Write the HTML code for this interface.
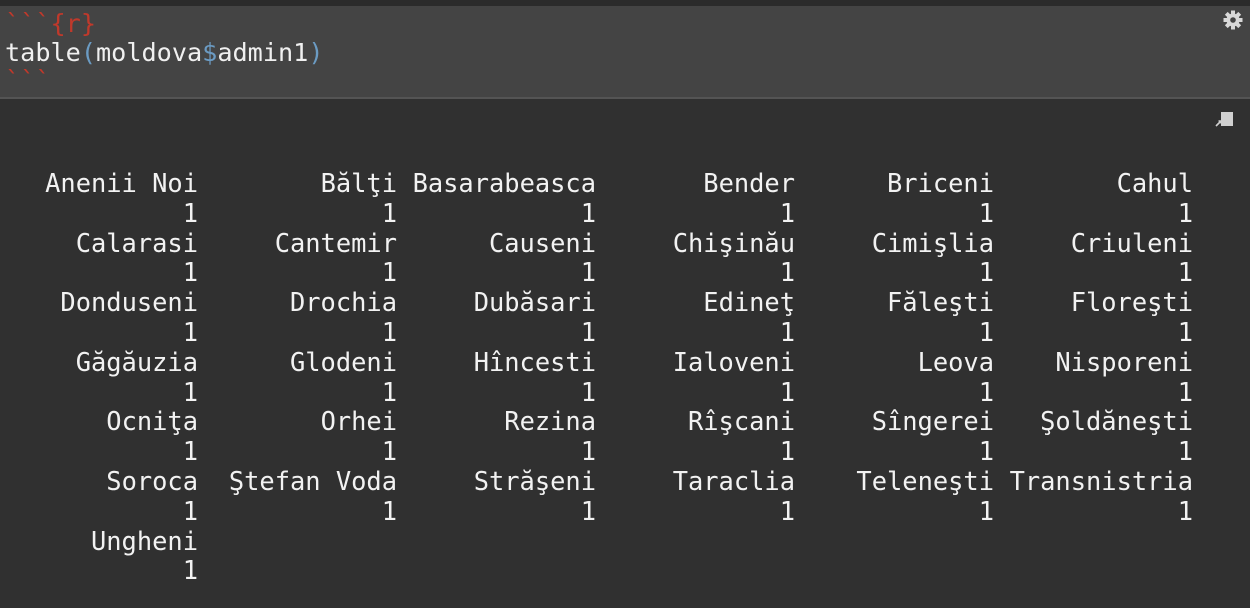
<!DOCTYPE html>
<html>
<head>
<meta charset="utf-8">
<title>moldova</title>
</head>
<body style="margin:0;width:1250px;height:608px;background:#303030;overflow:hidden;font-family:'DejaVu Sans Mono','Liberation Mono',monospace;">
<div style="height:6px;background:#2b2b2b;"></div>
<div style="height:91px;background:#444444;border-bottom:2px solid #545454;position:relative;">
<div style="padding:4px 0 0 5px;font-size:25.2px;line-height:28.5px;color:#f0f0f0;white-space:pre;"><span style="color:#c0392b;">&#96;&#96;&#96;{r}</span>
table<span style="color:#6b9bc3;">(</span>moldova<span style="color:#6b9bc3;">$</span>admin1<span style="color:#6b9bc3;">)</span>
<span style="color:#c0392b;">&#96;&#96;&#96;</span></div>
<svg style="position:absolute;left:1222px;top:3px" width="22" height="22" viewBox="0 0 22 22"><g fill="#d8d8d8" transform="translate(11,11)"><circle r="6.5"/><rect x="-2" y="-9.5" width="4" height="19"/><rect x="-2" y="-9.5" width="4" height="19" transform="rotate(45)"/><rect x="-2" y="-9.5" width="4" height="19" transform="rotate(90)"/><rect x="-2" y="-9.5" width="4" height="19" transform="rotate(135)"/></g><circle cx="11" cy="11" r="2.8" fill="#444"/></svg>
</div>
<div style="position:relative;height:509px;">
<svg style="position:absolute;left:1214px;top:12px" width="22" height="18"><rect x="7" y="1" width="12" height="14" fill="#d0d0d0"/><path d="M2 15 L7 10 M4.5 10 L7 10 L7 12.5" stroke="#d0d0d0" stroke-width="1.6" fill="none"/></svg>
<table style="position:absolute;left:-1px;top:70px;border-collapse:collapse;font-size:25.4px;line-height:29.8px;color:#f2f2f2;font-family:'DejaVu Sans Mono','Liberation Mono',monospace;">
<tr style="text-align:right;"><td style="width:199px;padding:0;">Anenii Noi</td><td style="width:199px;padding:0;">Bălţi</td><td style="width:199px;padding:0;">Basarabeasca</td><td style="width:199px;padding:0;">Bender</td><td style="width:199px;padding:0;">Briceni</td><td style="width:199px;padding:0;">Cahul</td></tr>
<tr style="text-align:right;"><td style="padding:0">1</td><td style="padding:0">1</td><td style="padding:0">1</td><td style="padding:0">1</td><td style="padding:0">1</td><td style="padding:0">1</td></tr>
<tr style="text-align:right;"><td style="padding:0">Calarasi</td><td style="padding:0">Cantemir</td><td style="padding:0">Causeni</td><td style="padding:0">Chişinău</td><td style="padding:0">Cimişlia</td><td style="padding:0">Criuleni</td></tr>
<tr style="text-align:right;"><td style="padding:0">1</td><td style="padding:0">1</td><td style="padding:0">1</td><td style="padding:0">1</td><td style="padding:0">1</td><td style="padding:0">1</td></tr>
<tr style="text-align:right;"><td style="padding:0">Donduseni</td><td style="padding:0">Drochia</td><td style="padding:0">Dubăsari</td><td style="padding:0">Edineţ</td><td style="padding:0">Făleşti</td><td style="padding:0">Floreşti</td></tr>
<tr style="text-align:right;"><td style="padding:0">1</td><td style="padding:0">1</td><td style="padding:0">1</td><td style="padding:0">1</td><td style="padding:0">1</td><td style="padding:0">1</td></tr>
<tr style="text-align:right;"><td style="padding:0">Găgăuzia</td><td style="padding:0">Glodeni</td><td style="padding:0">Hîncesti</td><td style="padding:0">Ialoveni</td><td style="padding:0">Leova</td><td style="padding:0">Nisporeni</td></tr>
<tr style="text-align:right;"><td style="padding:0">1</td><td style="padding:0">1</td><td style="padding:0">1</td><td style="padding:0">1</td><td style="padding:0">1</td><td style="padding:0">1</td></tr>
<tr style="text-align:right;"><td style="padding:0">Ocniţa</td><td style="padding:0">Orhei</td><td style="padding:0">Rezina</td><td style="padding:0">Rîşcani</td><td style="padding:0">Sîngerei</td><td style="padding:0">Şoldăneşti</td></tr>
<tr style="text-align:right;"><td style="padding:0">1</td><td style="padding:0">1</td><td style="padding:0">1</td><td style="padding:0">1</td><td style="padding:0">1</td><td style="padding:0">1</td></tr>
<tr style="text-align:right;"><td style="padding:0">Soroca</td><td style="padding:0">Ştefan Voda</td><td style="padding:0">Străşeni</td><td style="padding:0">Taraclia</td><td style="padding:0">Teleneşti</td><td style="padding:0">Transnistria</td></tr>
<tr style="text-align:right;"><td style="padding:0">1</td><td style="padding:0">1</td><td style="padding:0">1</td><td style="padding:0">1</td><td style="padding:0">1</td><td style="padding:0">1</td></tr>
<tr style="text-align:right;"><td style="padding:0">Ungheni</td><td></td><td></td><td></td><td></td><td></td></tr>
<tr style="text-align:right;"><td style="padding:0">1</td><td></td><td></td><td></td><td></td><td></td></tr>
</table>
</div>
</body>
</html>
